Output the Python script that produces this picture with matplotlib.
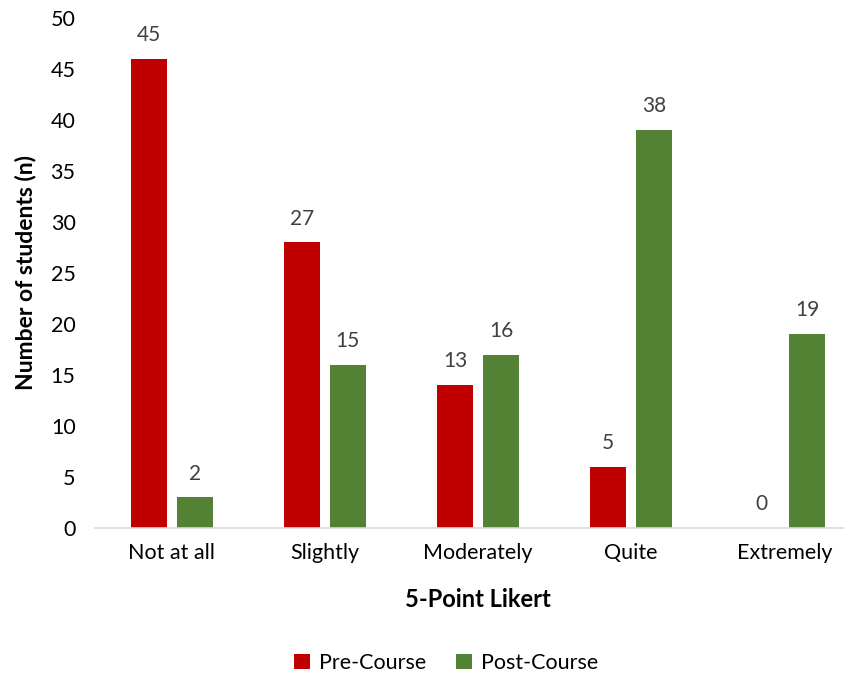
import matplotlib.pyplot as plt
import numpy as np

plt.rcParams['font.family'] = ['Lato', 'DejaVu Sans']

categories = ['Not at all', 'Slightly', 'Moderately', 'Quite', 'Extremely']
# bar heights as drawn in the picture
pre_heights = [46, 28, 14, 6, 0]
post_heights = [3, 16, 17, 39, 19]
# data labels as printed above the bars
pre_labels = [45, 27, 13, 5, 0]
post_labels = [2, 15, 16, 38, 19]

red = '#C00000'
green = '#548235'

fig = plt.figure(figsize=(8.44, 6.76), dpi=100)
ax = fig.add_axes([95 / 844, 148 / 676, 766 / 844, 510 / 676])

x = np.arange(len(categories))
w = 0.235
off = 0.15
b1 = ax.bar(x - off, pre_heights, width=w, color=red, label='Pre-Course')
b2 = ax.bar(x + off, post_heights, width=w, color=green, label='Post-Course')

for bars, labs in [(b1, pre_labels), (b2, post_labels)]:
    for rect, lab in zip(bars, labs):
        ax.annotate(str(lab), (rect.get_x() + rect.get_width() / 2, rect.get_height()),
                    xytext=(0, 10), textcoords='offset points',
                    ha='center', va='bottom', fontsize=15, color='#404040')

ax.set_xlim(-0.5, 4.5)
ax.set_ylim(0, 50)
ax.set_yticks(np.arange(0, 51, 5))
ax.set_xticks(x)
ax.set_xticklabels(categories)
ax.tick_params(axis='both', length=0, labelsize=15.5, colors='#000000')
ax.tick_params(axis='x', pad=11)
ax.tick_params(axis='y', pad=14)

for s in ['top', 'right', 'left']:
    ax.spines[s].set_visible(False)
ax.spines['bottom'].set_color('#d9d9d9')
ax.spines['bottom'].set_linewidth(1.2)

ax.set_xlabel('5-Point Likert', fontsize=17, fontweight='bold', labelpad=18)
ax.set_ylabel('Number of students (n)', fontsize=16.5, fontweight='bold', labelpad=10)

fig.legend(loc='center', bbox_to_anchor=(446 / 844, 1 - 663 / 676), ncol=2, frameon=False,
           fontsize=15.5, handlelength=0.75, handleheight=0.75, handletextpad=0.4, columnspacing=1.4)

fig.savefig('out.png', dpi=100)
